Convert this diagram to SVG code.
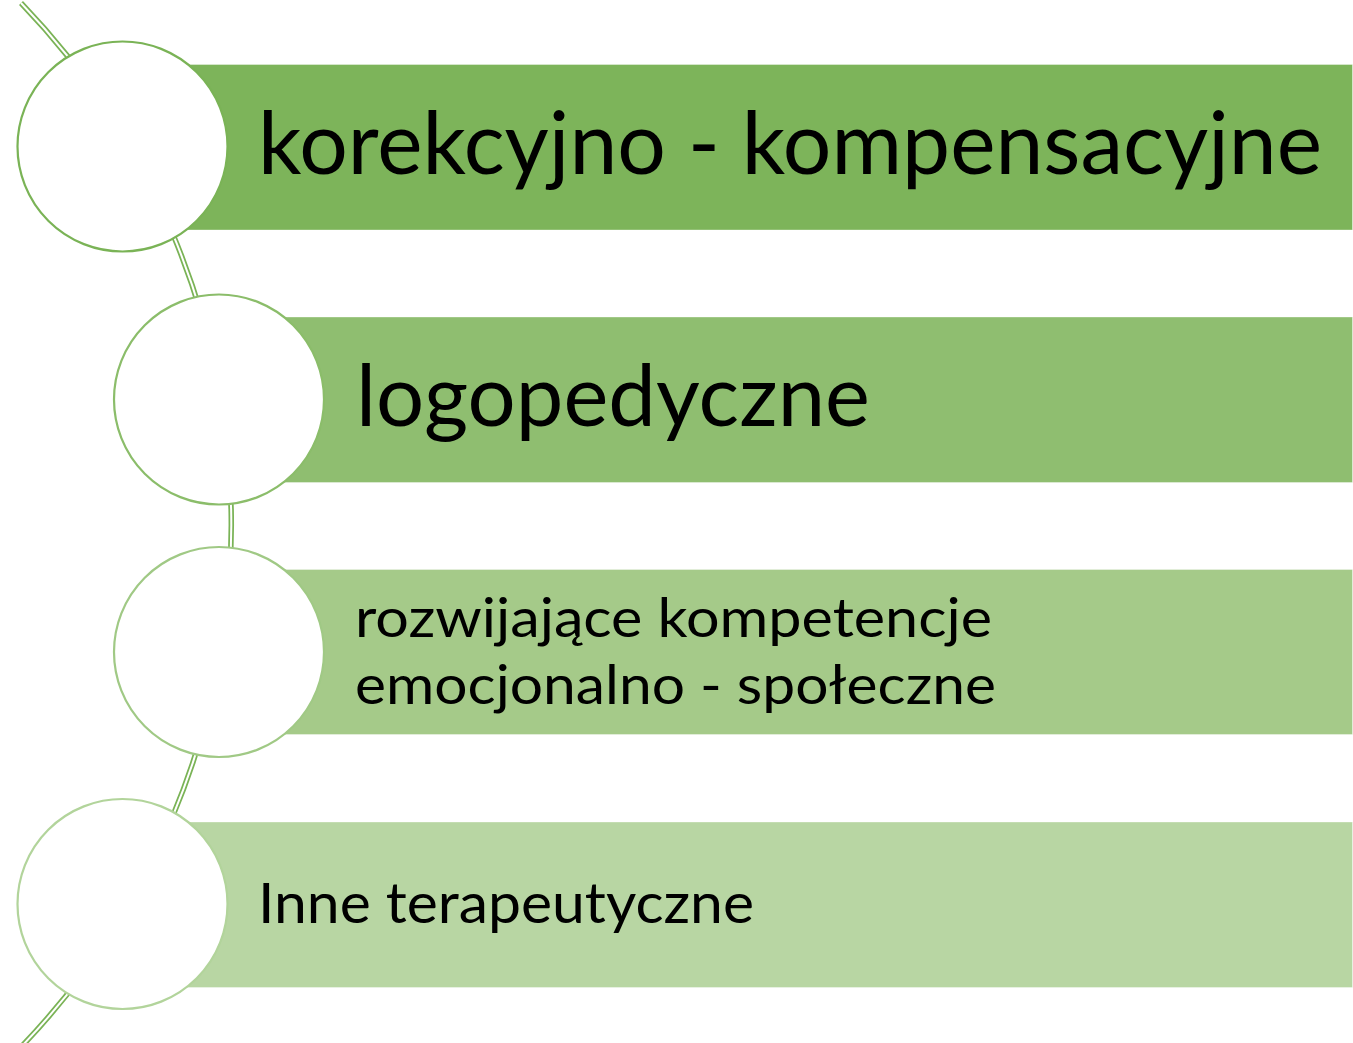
<svg xmlns="http://www.w3.org/2000/svg" width="1353" height="1043" viewBox="0 0 1353 1043">
<style>
.lbl{font-family:Lato,"Open Sans","Liberation Sans",sans-serif;fill:#000000}
.bubble{fill:#ffffff;stroke-width:2.2}
.bar{stroke:#ffffff;stroke-opacity:0.35;stroke-width:1}
</style>
<rect x="0" y="0" width="1353" height="1043" fill="#ffffff"/>
<g id="connectors">
<path d="M 21 3 A 753 753 0 0 1 21 1047" fill="none" stroke="#7ab356" stroke-width="5.5"/>
<path d="M 21 3 A 753 753 0 0 1 21 1047" fill="none" stroke="#ffffff" stroke-width="2"/>
</g>
<g id="node1">
<rect class="bar" x="122" y="64.5" width="1230.5" height="165.5" fill="#7db45a"/>
<circle class="bubble" cx="122.5" cy="146.5" r="105" stroke="#7ab356"/>
<text class="lbl" x="258" y="174" font-size="88" textLength="1064" lengthAdjust="spacingAndGlyphs">korekcyjno - kompensacyjne</text>
</g>
<g id="node2">
<rect class="bar" x="219" y="317" width="1133.5" height="165.5" fill="#8fbe70"/>
<circle class="bubble" cx="219" cy="399.5" r="105" stroke="#8bbd6a"/>
<text class="lbl" x="356" y="426" font-size="86" textLength="514" lengthAdjust="spacingAndGlyphs">logopedyczne</text>
</g>
<g id="node3">
<rect class="bar" x="219" y="569.5" width="1133.5" height="165" fill="#a5ca89"/>
<circle class="bubble" cx="219" cy="652" r="105" stroke="#a0c985"/>
<text class="lbl" x="355" y="637" font-size="55" textLength="637" lengthAdjust="spacingAndGlyphs">rozwijające kompetencje</text>
<text class="lbl" x="355" y="704" font-size="55" textLength="641" lengthAdjust="spacingAndGlyphs">emocjonalno - społeczne</text>
</g>
<g id="node4">
<rect class="bar" x="122" y="822" width="1230.5" height="165.5" fill="#b8d6a3"/>
<circle class="bubble" cx="122.5" cy="904" r="105" stroke="#b2d49b"/>
<text class="lbl" x="258" y="923" font-size="56" textLength="496" lengthAdjust="spacingAndGlyphs">Inne terapeutyczne</text>
</g>
</svg>
